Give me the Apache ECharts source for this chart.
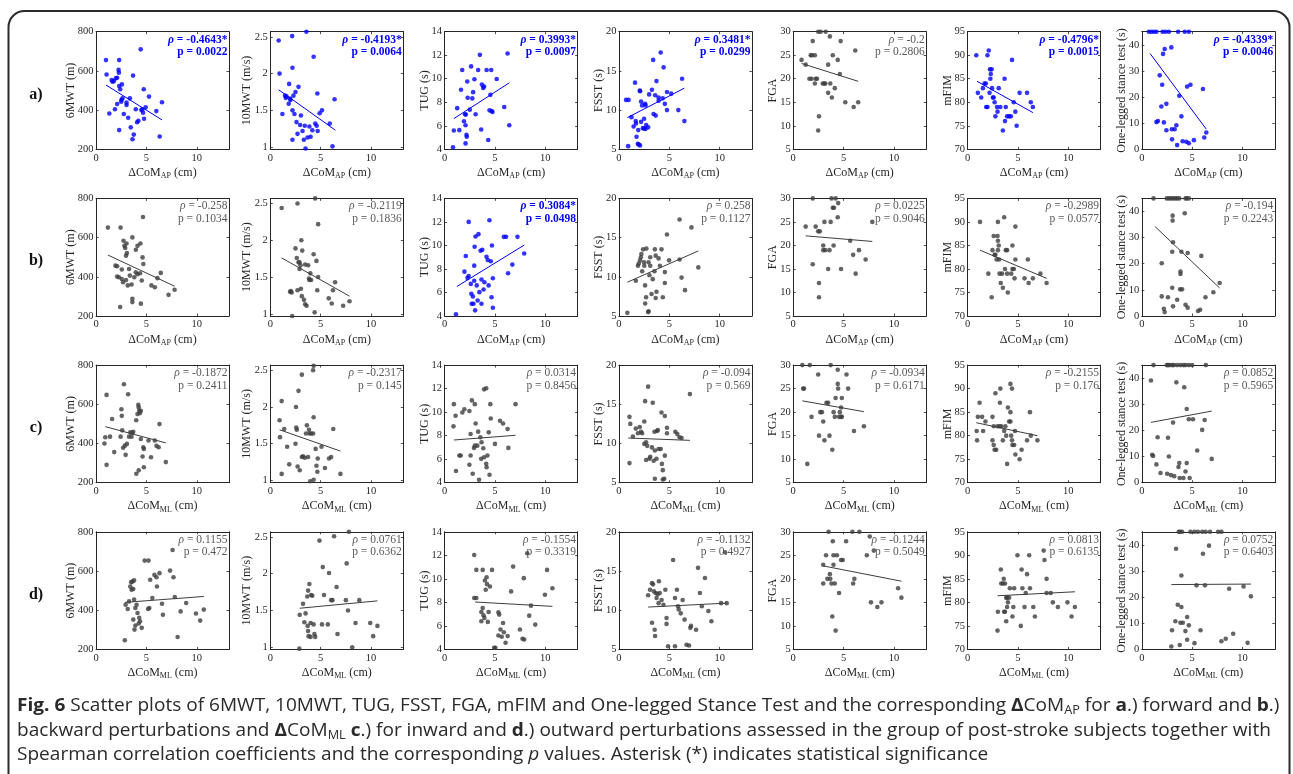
<!DOCTYPE html>
<html>
<head>
<meta charset="utf-8">
<title>Fig. 6</title>
<script src="https://cdn.jsdelivr.net/npm/echarts@6.0.0/dist/echarts.min.js"></script>
<style>
  html, body { margin: 0; padding: 0; background: #fff; }
  #chart { width: 1293px; height: 774px; }
</style>
</head>
<body>
<div id="chart"></div>
<script>
// ---- data ----
const yNames = ['6MWT (m)', '10MWT (m/s)', 'TUG (s)', 'FSST (s)', 'FGA', 'mFIM', 'One-legged stance test (s)'];
const rowLabels = ['a)', 'b)', 'c)', 'd)'];
const rowSub = ['AP', 'AP', 'ML', 'ML'];
const xTicks = [0, 5, 10];
const yMins = [200, 0.97, 4, 5, 5, 70, 0];
const yMaxs = [800, 2.57, 14, 20, 30, 95, 45];
const yTicks = [[200, 400, 600, 800], [1, 1.5, 2, 2.5], [4, 6, 8, 10, 12, 14], [5, 10, 15, 20],
  [5, 10, 15, 20, 25, 30], [70, 75, 80, 85, 90, 95], [0, 10, 20, 30, 40]];

const rhoA = ['-0.4643*', '-0.4193*', '0.3993*', '0.3481*', '-0.2', '-0.4796*', '-0.4339*'];
const pA = ['0.0022', '0.0064', '0.0097', '0.0299', '0.2806', '0.0015', '0.0046'];
const rhoB = ['-0.258', '-0.2119', '0.3084*', '0.258', '0.0225', '-0.2989', '-0.194'];
const pB = ['0.1034', '0.1836', '0.0498', '0.1127', '0.9046', '0.0577', '0.2243'];
const rhoC = ['-0.1872', '-0.2317', '0.0314', '-0.094', '-0.0934', '-0.2155', '0.0852'];
const pC = ['0.2411', '0.145', '0.8456', '0.569', '0.6171', '0.176', '0.5965'];
const rhoD = ['0.1155', '0.0761', '-0.1554', '-0.1132', '-0.1244', '0.0813', '0.0752'];
const pD = ['0.472', '0.6362', '0.3319', '0.4927', '0.5049', '0.6135', '0.6403'];

// row a: forward, dCoM AP
const a6mwt = [[0.99,655],[1.05,582],[1.32,383],[1.55,553],[1.64,545],[1.78,548],[1.88,404],[1.97,562],[2.1,565],[2.3,655],[2.24,605],[2.27,591],[2.3,523],[2.4,506],[2.57,531],[2.3,298],[2.1,431],[2.5,443],[2.53,452],[2.63,460],[2.76,380],[3.03,426],[3.03,438],[3.19,361],[3.36,460],[3.45,312],[3.62,251],[3.75,275],[3.68,576],[3.95,404],[4.08,338],[4.21,346],[4.44,710],[4.5,400],[4.6,404],[4.74,506],[4.67,387],[4.77,356],[4.93,414],[5.26,469],[5.99,395],[6.32,265],[6.55,440]];
const a10mwt = [[0.83,2.45],[0.92,2.0],[1.2,1.45],[1.46,1.70],[1.54,1.67],[1.6,1.69],[1.83,1.59],[1.87,1.86],[1.96,1.66],[2.0,1.64],[2.17,2.51],[2.2,2.08],[2.2,1.5],[2.2,1.1],[2.3,1.70],[2.4,1.45],[2.5,1.75],[2.6,1.34],[2.7,1.18],[2.8,1.82],[2.96,1.30],[3.04,1.43],[3.2,1.22],[3.33,1.10],[3.42,1.29],[3.5,0.98],[3.58,2.57],[3.7,1.13],[3.88,1.28],[4.0,1.14],[4.17,1.23],[4.3,2.23],[4.46,1.32],[4.6,1.29],[4.67,1.73],[4.7,1.22],[4.9,1.46],[5.13,1.5],[5.9,1.32],[6.17,1.01],[6.38,1.65]];
const aTug = [[0.83,4.17],[0.92,5.6],[1.25,7.5],[1.46,5.63],[1.63,9.06],[1.75,10.74],[1.92,6.39],[2.04,6.98],[2.1,6.95],[2.08,6.05],[2.08,4.5],[2.17,5.24],[2.2,5.07],[2.25,9.76],[2.29,8.38],[2.5,7.37],[2.63,11.05],[2.75,8.33],[2.83,8.86],[2.96,9.96],[3.08,6.98],[3.33,10.74],[3.5,12.03],[3.63,5.69],[3.7,9.5],[3.83,9.22],[3.92,9.34],[4.17,10.74],[4.33,4.79],[4.46,7.31],[4.54,8.63],[4.63,10.74],[4.67,7.26],[4.75,7.17],[5.17,9.98],[5.92,7.6],[6.25,12.15],[6.42,6.05]];
const aFsst = [[0.92,5.4],[0.71,11.3],[0.96,11.3],[1.6,13.5],[1.25,9.1],[1.46,7.9],[1.67,8.6],[1.7,8.3],[1.75,6.6],[1.88,5.7],[1.96,5.6],[1.92,7.45],[2.08,12.5],[2.1,12.4],[2.2,11.1],[2.3,10.6],[2.38,7.7],[2.5,8.9],[2.63,7.6],[2.71,8.1],[2.2,8.5],[2.5,7.65],[2.9,7.8],[2.1,5.5],[2.6,10.8],[2.65,10.6],[3.0,12.0],[3.28,12.6],[3.4,16.4],[3.44,9.5],[3.6,11.9],[3.65,9.3],[3.73,13.7],[3.94,11.6],[3.94,11.2],[4.15,17.35],[4.35,11.5],[4.44,15.45],[4.56,10.8],[4.77,12.3],[4.77,10.0],[5.19,12.1],[5.9,10.0],[6.27,14.0],[6.5,8.6]];
const aFga = [[0.83,24],[1.24,23],[1.61,20],[1.82,20],[1.74,25],[1.86,25],[1.94,28],[2.15,19],[2.15,25],[2.23,20],[2.36,20],[2.48,30],[2.73,30],[3.22,30],[2.56,12],[2.48,9],[2.93,19],[3.1,19],[3.18,19],[3.47,17],[3.47,23],[3.64,29],[3.68,19],[3.84,16],[3.93,25],[4.13,18],[4.42,24],[4.63,21],[4.71,28],[5.17,15],[6.0,14],[6.16,26],[6.45,15]];
const aMfim = [[0.87,90],[1.03,82],[1.36,81],[1.53,83],[1.69,84],[1.82,84],[1.86,79],[1.98,79],[1.98,90],[2.11,91],[2.19,82],[2.23,87],[2.4,87],[2.31,86],[2.27,85],[2.44,83],[2.52,81],[2.6,81],[2.69,80],[2.77,77],[2.98,78],[3.1,83],[2.93,79],[3.26,79],[3.51,74],[3.68,85],[3.72,76],[3.8,79],[3.93,77],[4.13,77],[4.3,77],[4.42,89],[4.59,80],[4.75,78],[4.88,75],[5.17,82],[5.91,82],[6.28,80],[6.49,79]];
const aStance = [[0.7,45],[0.95,45],[1.2,45],[1.45,45],[2.07,45],[2.36,45],[2.69,45],[3.6,45],[4.26,45],[4.67,45],[1.45,10.4],[1.6,10.8],[1.78,28.3],[2.02,24.7],[1.94,16.4],[2.11,36.5],[2.27,38.4],[2.19,10.3],[2.44,17.4],[2.44,7.3],[2.93,39.0],[2.98,7.7],[3.26,7.7],[3.0,3.8],[3.43,9.2],[3.51,1.6],[3.72,20.5],[3.93,12.6],[4.05,3.1],[4.42,2.9],[4.5,24.0],[4.67,2.3],[4.83,24.7],[5.17,3.5],[6.07,23.1],[6.2,4.5],[6.4,6.4]];
const fitA = [[[0.99,528],[6.55,350]], [[0.83,1.78],[6.46,1.23]], [[0.92,6.61],[6.42,9.65]], [[0.84,9.04],[6.5,12.8]],
  [[0.83,23.25],[6.45,19.45]], [[0.95,84.45],[6.49,77.8]], [[0.83,36.6],[6.4,7.7]]];

// row b: backward, dCoM AP
const b6mwt = [[1.18,651],[1.93,457],[2.1,454],[2.1,401],[2.27,398],[2.44,651],[2.4,246],[2.56,389],[2.56,437],[2.69,372],[2.73,584],[2.82,558],[2.9,547],[3.03,570],[2.98,508],[3.07,521],[2.98,384],[3.15,356],[3.28,440],[3.36,406],[3.53,361],[3.61,601],[3.61,288],[3.61,271],[3.8,398],[3.95,538],[3.95,423],[4.12,558],[4.12,413],[4.37,418],[4.41,570],[4.45,263],[4.54,381],[4.62,499],[4.66,705],[4.7,465],[5.5,356],[5.84,347],[6.1,393],[6.43,420],[7.2,308],[7.8,334]];
const b10mwt = [[1.13,2.44],[1.96,1.30],[2.04,1.31],[2.12,1.29],[2.17,0.97],[2.5,1.89],[2.63,1.76],[2.7,1.32],[2.7,2.50],[2.8,1.70],[2.9,1.70],[2.9,1.61],[3.0,1.66],[3.04,1.34],[3.08,2.0],[3.17,1.86],[3.13,1.24],[3.34,1.19],[3.46,1.13],[3.6,1.11],[3.46,1.67],[3.76,1.66],[3.84,1.48],[3.88,1.46],[3.97,1.55],[4.05,1.46],[4.3,1.81],[4.4,1.02],[4.45,2.57],[4.58,1.72],[4.66,1.32],[4.75,2.22],[4.75,1.5],[5.8,1.21],[6.1,1.14],[6.22,1.32],[6.43,1.43],[7.23,1.11],[7.86,1.17]];
const bTug = [[1.13,4.14],[1.97,7.77],[2.1,9.1],[2.27,7.24],[2.39,7.4],[2.39,12.0],[2.6,6.73],[2.65,5.89],[2.69,5.04],[2.86,5.04],[2.81,5.66],[2.94,8.28],[2.94,7.0],[2.98,9.89],[3.03,4.48],[3.07,10.76],[3.19,6.6],[3.28,5.32],[3.36,10.96],[3.45,6.03],[3.57,9.55],[3.66,5.04],[3.66,7.1],[3.74,9.63],[3.87,6.25],[3.95,6.87],[4.16,9.04],[4.28,8.76],[4.37,6.6],[4.45,12.14],[4.58,8.65],[4.7,10.0],[4.79,7.21],[4.79,4.7],[4.66,5.6],[5.88,10.73],[6.1,10.73],[6.3,7.63],[6.72,8.37],[7.23,10.73],[7.9,9.32]];
const bFsst = [[0.84,5.4],[1.68,9.5],[1.89,11.4],[1.97,11.7],[2.1,12.1],[2.18,12.5],[2.23,12.9],[2.31,10.7],[2.4,13.5],[2.49,11.85],[2.52,11.4],[2.6,8.9],[2.61,6.6],[2.7,7.4],[2.73,13.6],[2.9,5.5],[2.95,5.6],[2.94,11.85],[3.03,10.2],[3.11,12.5],[3.11,11.4],[3.24,7.8],[3.36,9.7],[3.53,10.7],[3.57,13.5],[3.65,12.7],[3.65,7.3],[3.73,8.1],[3.94,12.35],[4.07,11.4],[4.23,13.5],[4.36,7.4],[4.56,9.2],[4.56,10.6],[4.77,15.4],[4.98,12.1],[6.02,12.2],[6.22,9.9],[6.56,8.3],[6.02,17.3],[7.2,16.3],[7.88,11.2]];
const bFga = [[1.24,24],[1.94,30],[1.94,16],[2.23,24],[2.48,23],[2.64,23],[2.56,12],[2.56,9],[2.98,20],[2.98,19],[3.18,19],[3.1,25],[3.47,15],[3.6,19],[3.72,25],[3.8,30],[3.93,28],[4.05,28],[4.01,20],[4.21,30],[4.46,29],[4.42,26],[4.75,15],[5.66,21],[5.95,18],[6.2,14],[6.53,19],[7.19,17],[7.85,25]];
const bMfim = [[1.24,90],[2.07,79],[2.4,74],[2.48,84],[2.6,87],[2.69,83],[2.77,83],[2.89,82],[2.98,87],[3.02,90],[3.02,86],[3.1,85],[3.02,84],[3.14,82],[3.18,79],[3.3,77],[3.43,79],[3.51,76],[3.64,91],[3.72,80],[3.8,84],[3.93,84],[3.93,79],[4.0,75],[4.34,79],[4.46,80],[4.6,80],[4.46,85],[4.67,78],[4.75,89],[4.75,82],[5.66,78],[5.99,82],[6.07,77],[6.49,78],[7.23,79],[7.85,77]];
const bStance = [[1.16,45],[2.48,45],[2.69,45],[2.89,45],[3.1,45],[3.31,45],[3.51,45],[3.72,45],[4.34,45],[4.46,45],[4.67,45],[1.98,20.2],[1.98,7.5],[2.19,2.8],[2.27,1.5],[2.6,7.2],[3.02,10.8],[3.02,24.6],[3.06,38.4],[3.06,36.5],[3.1,28.2],[3.1,3.7],[3.51,6.2],[3.8,10.2],[4.0,10.2],[3.84,17.0],[3.84,16.1],[3.93,24.6],[4.26,39.3],[4.34,4.3],[4.55,3.2],[4.55,24.1],[5.58,1.9],[5.79,2.4],[5.91,23.0],[6.32,7.2],[7.1,9.1],[7.73,12.6]];
const fitB = [[[1.18,511],[7.8,352]], [[1.13,1.76],[7.86,1.24]], [[1.22,6.51],[7.9,10.03]], [[0.84,9.31],[7.88,13.3]],
  [[1.24,22.04],[7.85,20.85]], [[1.24,84.0],[7.85,78.0]], [[1.32,34.2],[7.73,10.7]]];

// row c: inward, dCoM ML
const c6mwt = [[1.05,648],[0.84,400],[0.92,432],[1.05,291],[1.39,435],[1.6,525],[1.81,356],[2.44,435],[2.52,575],[2.56,541],[2.6,467],[2.69,378],[2.77,702],[2.86,389],[2.94,342],[3.07,398],[3.19,651],[3.28,435],[3.4,457],[3.53,435],[3.6,455],[3.7,460],[3.99,519],[4.0,246],[4.12,550],[4.2,597],[4.24,584],[4.29,567],[4.24,263],[4.37,555],[4.45,567],[4.45,423],[4.62,334],[4.7,381],[4.75,279],[4.75,372],[5.21,415],[5.46,330],[5.84,415],[6.0,388],[6.22,381],[6.3,499],[6.93,305]];
const c10mwt = [[0.92,1.82],[1.13,2.08],[0.96,1.59],[1.13,1.09],[1.38,1.70],[1.67,1.46],[1.88,1.22],[2.5,1.50],[2.55,2.0],[2.58,1.72],[2.63,1.69],[2.71,1.19],[2.8,2.22],[2.92,1.14],[3.13,2.44],[3.13,1.32],[3.25,1.33],[3.42,1.31],[3.54,1.64],[3.63,1.75],[3.75,1.32],[3.84,1.69],[3.88,1.64],[3.96,0.99],[4.05,1.64],[4.25,1.64],[4.25,2.5],[4.3,2.56],[4.3,1.01],[4.3,1.86],[4.5,1.43],[4.58,1.20],[4.67,1.12],[4.71,1.30],[5.08,1.46],[5.42,1.17],[5.83,1.3],[6.04,1.32],[6.25,1.70],[6.96,1.09]];
const cTug = [[0.92,10.68],[0.88,8.79],[1.09,9.69],[1.13,5.0],[1.47,6.31],[1.6,6.31],[1.76,9.97],[1.96,10.25],[2.46,10.1],[2.46,5.52],[2.58,8.14],[2.58,6.31],[2.71,11.0],[2.79,4.76],[2.92,6.96],[3.0,7.15],[3.0,10.68],[3.08,9.04],[3.25,7.15],[3.33,8.34],[3.42,4.25],[3.55,7.86],[3.63,6.03],[3.67,7.44],[3.84,6.93],[3.92,6.17],[3.92,11.94],[4.13,12.03],[4.13,5.61],[4.17,5.32],[4.25,6.31],[4.38,8.28],[4.46,4.68],[4.54,10.68],[4.58,9.46],[5.0,7.3],[5.5,9.27],[5.8,9.04],[6.25,8.56],[6.33,6.96],[7.04,10.68]];
const cFsst = [[1.05,7.5],[1.05,13.4],[1.13,12.5],[1.39,10.9],[1.68,11.9],[1.89,11.3],[2.07,12.1],[2.2,11.5],[2.3,11.3],[2.52,12.8],[2.52,9.95],[2.6,15.4],[2.7,10.15],[2.7,7.9],[2.81,9.7],[2.9,17.25],[3.03,8.05],[3.11,8.3],[3.28,9.5],[3.36,15.2],[3.45,7.8],[3.53,11.5],[3.57,9.1],[3.57,5.5],[3.73,8.05],[3.78,11.6],[3.86,11.7],[3.94,9.3],[4.15,9.3],[4.23,13.95],[4.27,7.4],[4.36,6.6],[4.36,5.4],[4.5,5.5],[4.56,13.5],[4.56,8.45],[4.77,11.3],[4.77,12.0],[5.6,11.5],[5.8,11.2],[6.02,10.8],[6.22,10.7],[7.05,16.3]];
const cFga = [[0.91,30],[1.65,30],[0.99,25],[1.07,25],[1.4,9],[1.82,19],[2.48,28],[2.56,15],[2.69,20],[2.85,20],[2.98,18],[3.1,14],[3.3,22],[3.47,22],[3.6,15],[3.72,30],[3.88,12],[4.01,20],[4.13,19],[4.21,23],[4.42,29],[4.42,26],[4.46,25],[4.55,19],[4.63,20],[4.75,19],[4.75,21],[4.83,23],[4.83,19],[5.29,28],[5.45,25],[6.03,16],[7.02,17]];
const cMfim = [[0.91,81],[0.95,79],[1.03,84],[1.2,87],[1.45,84],[1.55,81],[1.78,83],[2.48,84],[2.6,82],[2.48,79],[2.6,78],[2.69,77],[2.85,77],[2.77,89],[2.98,82],[3.18,82],[3.35,82],[3.26,90],[3.22,87],[3.51,79],[3.64,81],[3.76,82],[3.84,80],[3.93,74],[4.01,86],[4.13,83],[4.26,83],[4.26,91],[4.26,85],[4.34,80],[4.42,90],[4.42,79],[4.46,78],[4.63,78],[4.71,81],[4.75,76],[5.17,75],[5.37,77],[5.91,79],[6.2,85],[6.28,80],[6.94,79]];
const cStance = [[1.16,45],[2.48,45],[2.6,45],[2.77,45],[3.02,45],[3.18,45],[3.51,45],[3.84,45],[4.13,45],[4.34,45],[4.67,45],[5.0,45],[6.36,45],[0.91,39.1],[1.03,10.7],[1.12,10.2],[1.45,7.0],[1.57,17.4],[1.86,3.7],[2.52,3.4],[2.6,17.2],[2.69,10.0],[2.89,2.9],[3.1,23.0],[3.22,2.5],[3.43,38.4],[3.64,6.0],[3.72,7.5],[3.76,1.8],[4.13,1.8],[4.21,36.5],[4.34,4.3],[4.46,28.2],[4.46,7.5],[4.67,24.3],[4.75,1.8],[5.08,24.3],[5.5,12.3],[5.99,20.2],[6.24,24.0],[6.94,9.1]];
const fitC = [[[0.92,486],[6.93,403]], [[0.92,1.69],[6.96,1.40]], [[0.92,7.63],[7.04,8.03]], [[0.92,10.7],[7.05,10.4]],
  [[0.91,22.4],[7.02,20.1]], [[0.87,82.75],[6.94,80.0]], [[0.91,23.1],[6.94,27.4]]];

// row d: outward, dCoM ML
const d6mwt = [[2.86,247],[2.94,428],[3.15,406],[3.28,445],[3.4,521],[3.49,543],[3.53,504],[3.61,546],[3.7,508],[3.7,352],[3.78,552],[3.78,454],[3.82,301],[3.91,322],[3.91,411],[4.03,428],[4.12,386],[4.24,332],[4.29,361],[4.37,344],[4.54,310],[4.83,653],[5.21,653],[5.17,406],[5.29,411],[5.38,555],[5.59,462],[5.8,580],[6.0,568],[6.05,521],[6.3,589],[6.55,433],[6.64,377],[7.35,602],[7.6,707],[7.69,568],[7.82,467],[8.1,263],[8.4,394],[8.95,437],[9.92,383],[10.34,347],[10.7,403]];
const d10mwt = [[2.92,1.44],[2.88,0.98],[3.25,1.59],[3.38,1.34],[3.5,1.46],[3.67,1.69],[3.71,1.29],[3.75,1.77],[3.75,1.22],[3.8,1.15],[4.0,1.14],[3.88,1.86],[4.0,1.33],[4.05,1.71],[4.17,1.70],[4.38,1.18],[4.46,1.14],[4.3,1.31],[4.88,2.45],[5.13,1.31],[5.21,2.09],[5.33,1.71],[5.71,1.31],[5.83,2.01],[6.04,1.64],[6.17,1.64],[6.33,2.51],[6.58,1.82],[6.67,1.18],[7.5,1.64],[7.58,2.14],[7.71,1.50],[7.8,2.57],[8.13,1.0],[8.46,1.33],[8.83,1.64],[9.92,1.33],[10.21,1.15],[10.63,1.29]];
const dTug = [[2.94,12.03],[2.94,8.37],[3.15,8.37],[3.15,10.76],[3.78,10.76],[3.65,7.18],[3.78,7.52],[3.86,6.9],[3.95,6.68],[4.0,9.86],[4.08,9.07],[4.17,10.14],[4.21,9.55],[4.29,6.34],[4.37,7.18],[4.5,9.35],[4.71,10.76],[3.65,6.4],[4.92,4.14],[5.04,4.14],[5.34,7.15],[5.42,6.96],[5.34,5.18],[5.55,5.69],[5.67,5.07],[5.8,6.25],[5.88,5.46],[6.05,4.56],[6.26,5.13],[6.6,8.93],[6.8,11.04],[7.48,5.69],[7.73,4.9],[7.9,4.84],[7.86,10.06],[8.2,12.17],[8.4,6.87],[8.57,7.72],[9.0,6.11],[9.96,8.65],[10.17,10.76],[10.7,9.2]];
const dFsst = [[2.9,11.9],[3.09,12.6],[3.29,13.45],[3.29,8.4],[3.39,13.3],[3.48,12.4],[3.55,7.5],[3.59,6.7],[3.66,12.2],[3.74,11.55],[3.85,12.05],[3.94,10.9],[3.97,13.7],[4.05,12.2],[4.24,11.3],[4.42,10.7],[4.61,12.6],[4.73,9.0],[4.73,8.25],[4.88,5.4],[5.38,16.4],[5.57,11.55],[5.57,5.4],[5.76,12.6],[5.87,10.5],[5.94,10.1],[6.14,9.6],[6.33,11.3],[6.52,8.8],[6.71,5.6],[6.96,5.5],[7.09,7.75],[7.16,8.0],[7.66,7.5],[7.85,15.4],[8.04,12.2],[8.23,10.5],[8.54,14.1],[8.88,9.9],[9.18,8.6],[10.14,10.9],[10.54,17.4],[10.7,10.9]];
const dFga = [[2.98,23],[2.98,19],[3.26,25],[3.39,20],[3.51,30],[3.64,21],[3.68,20],[3.8,19],[3.88,12],[3.93,28],[4.0,23],[4.0,25],[4.13,19],[4.21,9],[4.34,25],[4.55,17],[4.75,24],[4.92,24],[5.25,28],[5.87,30],[6.57,30],[5.95,19],[6.07,20],[7.31,25],[7.6,29],[7.72,15],[8.0,26],[8.35,14],[8.76,15],[10.41,18],[10.74,16]];
const dMfim = [[2.98,74],[3.02,78],[3.31,87],[3.35,84],[3.51,84],[3.6,85],[3.64,78],[3.72,84],[3.72,78],[3.84,76],[3.84,81],[3.93,81],[3.93,79],[4.01,80],[4.13,81],[4.2,83],[4.46,77],[4.55,79],[4.63,83],[4.96,90],[5.29,75],[5.37,87],[5.45,83],[5.66,79],[5.78,82],[5.91,86],[6.12,90],[6.2,83],[6.53,79],[6.69,77],[7.56,91],[7.64,89],[7.85,85],[7.85,82],[8.26,82],[8.47,80],[8.97,79],[9.92,80],[10.33,77],[10.66,79]];
const dStance = [[3.67,45],[3.8,45],[4.0,45],[4.83,45],[5.23,45],[5.57,45],[6.0,45],[6.33,45],[6.77,45],[7.57,45],[7.9,45],[3.4,38.5],[3.93,28.3],[6.67,39.7],[6.07,36.6],[3.57,17.1],[3.93,16.2],[3.33,10.8],[3.83,10.2],[4.07,10.2],[4.5,12.4],[4.67,9.2],[3.0,7.3],[4.33,7.0],[5.83,7.3],[4.5,3.7],[3.77,1.7],[2.93,1.1],[5.23,2.4],[5.43,24.5],[6.27,24.5],[8.67,23.2],[10.1,24.1],[10.83,20.3],[7.9,3.1],[8.33,4.1],[9.07,6.0],[10.5,2.5]];
const fitD = [[[2.86,440],[10.7,470]], [[2.92,1.53],[10.63,1.63]], [[3.03,8.03],[10.7,7.66]], [[2.9,10.4],[10.7,10.9]],
  [[2.98,22.75],[10.74,19.5]], [[2.98,81.4],[10.66,82.25]], [[2.93,24.8],[10.83,25.0]]];

const caption = [
  '{b|Fig. 6} Scatter plots of 6MWT, 10MWT, TUG, FSST, FGA, mFIM and One-legged Stance Test and the corresponding {b|Δ}CoM{s|AP} for {b|a}.) forward and {b|b}.)',
  'backward perturbations and {b|Δ}CoM{s|ML} {b|c}.) for inward and {b|d}.) outward perturbations assessed in the group of post-stroke subjects together with',
  'Spearman correlation coefficients and the corresponding {i|p} values. Asterisk (*) indicates statistical significance'
];

// ---- assemble ----
const rows = [
  [a6mwt, a10mwt, aTug, aFsst, aFga, aMfim, aStance],
  [b6mwt, b10mwt, bTug, bFsst, bFga, bMfim, bStance],
  [c6mwt, c10mwt, cTug, cFsst, cFga, cMfim, cStance],
  [d6mwt, d10mwt, dTug, dFsst, dFga, dMfim, dStance]
];
const fits = [fitA, fitB, fitC, fitD];
const rhos = [rhoA, rhoB, rhoC, rhoD];
const pvals = [pA, pB, pC, pD];

const SERIF = '"Liberation Serif", "Times New Roman", serif';
const AXIS = '#262626';
const BLUE = '#0000ff';
const GREY = '#3d3d3d';
const TXTGREY = '#595959';

const left0 = 96, colStep = 174.3, pw = 133;
const top0 = 31.7, rowStep = 166.7, ph = 117.6;
const yNameGap = [19.5, 17, 14, 14, 14, 14, 14];

const grid = [], xAxis = [], yAxis = [], series = [], graphic = [];

rows.forEach(function (row, r) {
  row.forEach(function (pts, c) {
    const gi = r * 7 + c;
    const sig = rhos[r][c].indexOf('*') >= 0;
    const col = sig ? BLUE : GREY;
    const gl = left0 + c * colStep, gt = top0 + r * rowStep;
    grid.push({ left: gl, top: gt, width: pw, height: ph });

    const tick = { show: true, inside: true, length: 2.5, lineStyle: { color: AXIS, width: 0.8 } };
    const line = { show: true, onZero: false, lineStyle: { color: AXIS, width: 1 } };
    xAxis.push({
      gridIndex: gi, type: 'value', position: 'bottom', min: 0, max: 13.2,
      axisLine: line, splitLine: { show: false },
      axisTick: Object.assign({ customValues: xTicks }, tick),
      axisLabel: { customValues: xTicks, fontFamily: SERIF, fontSize: 10.5, color: AXIS, margin: 3 },
      name: '{n|ΔCoM}{s|' + rowSub[r] + '}{n| (cm)}',
      nameLocation: 'middle', nameGap: 16, nameMoveOverlap: false,
      nameTextStyle: {
        rich: {
          n: { fontFamily: SERIF, fontSize: 12, color: AXIS },
          s: { fontFamily: SERIF, fontSize: 8, color: AXIS, padding: [7, 0, 0, 0] }
        }
      }
    });
    xAxis.push({
      gridIndex: gi, type: 'value', position: 'top', min: 0, max: 13.2,
      axisLine: line, splitLine: { show: false }, axisLabel: { show: false },
      axisTick: Object.assign({ customValues: xTicks }, tick)
    });
    yAxis.push({
      gridIndex: gi, type: 'value', position: 'left', min: yMins[c], max: yMaxs[c],
      axisLine: line, splitLine: { show: false },
      axisTick: Object.assign({ customValues: yTicks[c] }, tick),
      axisLabel: { customValues: yTicks[c], fontFamily: SERIF, fontSize: 10.5, color: AXIS, margin: 2.5 },
      name: yNames[c], nameLocation: 'middle', nameGap: yNameGap[c], nameMoveOverlap: false,
      nameTextStyle: { fontFamily: SERIF, fontSize: 12, color: AXIS }
    });
    yAxis.push({
      gridIndex: gi, type: 'value', position: 'right', min: yMins[c], max: yMaxs[c],
      axisLine: line, splitLine: { show: false }, axisLabel: { show: false },
      axisTick: Object.assign({ customValues: yTicks[c] }, tick)
    });

    series.push({
      type: 'scatter', xAxisIndex: 2 * gi, yAxisIndex: 2 * gi, data: pts,
      symbolSize: 4.6, itemStyle: { color: col }, clip: false, silent: true
    });
    series.push({
      type: 'line', xAxisIndex: 2 * gi, yAxisIndex: 2 * gi, data: fits[r][c],
      symbol: 'none', lineStyle: { color: col, width: 1 }, silent: true
    });

    const tcol = sig ? BLUE : TXTGREY;
    const fw = sig ? 'bold' : 'normal';
    graphic.push({
      type: 'text', x: gl + pw - 1.5, y: gt + 8, silent: true,
      style: {
        text: '{r|ρ}{t| = ' + rhos[r][c] + '}', align: 'right', verticalAlign: 'middle',
        rich: {
          r: { fontFamily: SERIF, fontSize: 11.5, fontStyle: 'italic', fontWeight: fw, fill: tcol },
          t: { fontFamily: SERIF, fontSize: 11.5, fontWeight: fw, fill: tcol }
        }
      }
    });
    graphic.push({
      type: 'text', x: gl + pw - 1.5, y: gt + 20.5, silent: true,
      style: {
        text: 'p = ' + pvals[r][c], align: 'right', verticalAlign: 'middle',
        fontFamily: SERIF, fontSize: 11.5, fontWeight: fw, fill: tcol
      }
    });
  });
  graphic.push({
    type: 'text', x: 36, y: top0 + r * rowStep + ph / 2 + 4, silent: true,
    style: {
      text: rowLabels[r], align: 'center', verticalAlign: 'middle',
      fontFamily: SERIF, fontSize: 16, fontWeight: 'bold', fill: '#111'
    }
  });
});

// caption, condensed to the figure width
const CAPFONT = '"Open Sans", "Noto Sans", sans-serif';
const capSize = 18;
const ctx = document.createElement('canvas').getContext('2d');
ctx.font = capSize + 'px ' + CAPFONT;
const plain1 = caption[0].replace(/\{\w\|([^}]*)\}/g, '$1');
const capScale = 1265 / ctx.measureText(plain1).width;
const capY = [706, 731, 755];
caption.forEach(function (t, i) {
  graphic.push({
    type: 'text', x: 17, y: capY[i], scaleX: capScale, silent: true,
    style: {
      text: t, verticalAlign: 'middle', fontFamily: CAPFONT, fontSize: capSize, fill: '#2a2a2a',
      rich: {
        b: { fontFamily: CAPFONT, fontSize: capSize, fontWeight: 'bold', fill: '#2a2a2a' },
        i: { fontFamily: CAPFONT, fontSize: capSize, fontStyle: 'italic', fill: '#2a2a2a' },
        s: { fontFamily: CAPFONT, fontSize: 12, fill: '#2a2a2a', padding: [9, 0, 0, 0] }
      }
    }
  });
});

// frame
graphic.push({
  type: 'rect', silent: true, z: -1,
  shape: { x: 8.5, y: 11, width: 1281, height: 800, r: 16 },
  style: { fill: 'none', stroke: '#2b2b2b', lineWidth: 2 }
});

const chart = echarts.init(document.getElementById('chart'), null, { renderer: 'canvas' });
chart.setOption({
  animation: false,
  backgroundColor: '#fff',
  grid: grid,
  xAxis: xAxis,
  yAxis: yAxis,
  series: series,
  graphic: graphic
});
</script>
</body>
</html>
